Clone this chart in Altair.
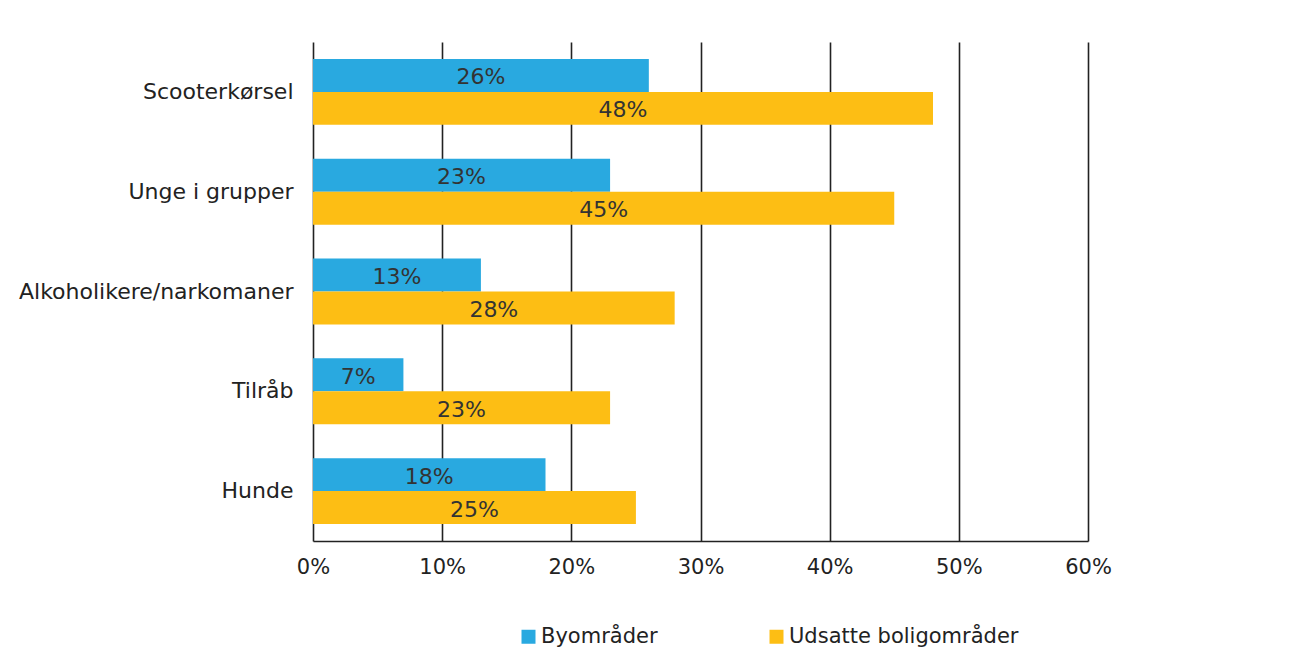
import altair as alt
import pandas as pd

categories = ["Scooterkørsel", "Unge i grupper", "Alkoholikere/narkomaner", "Tilråb", "Hunde"]
series = ["Byområder", "Udsatte boligområder"]
byomraader = [26, 23, 13, 7, 18]
udsatte = [48, 45, 28, 23, 25]
colors = ["#29A9E0", "#FDBE14"]
x_ticks = [0, 10, 20, 30, 40, 50, 60]

rows = []
for c, a, b in zip(categories, byomraader, udsatte):
    rows.append({"cat": c, "serie": series[0], "val": a})
    rows.append({"cat": c, "serie": series[1], "val": b})
df = pd.DataFrame(rows)

FONT = "DejaVu Sans"
FS = 22

base = alt.Chart(df).transform_calculate(
    mid="datum.val / 2", lbl="datum.val + '%'"
)

y_enc = alt.Y(
    "cat:N", sort=categories, title=None,
    scale=alt.Scale(paddingInner=0.34, paddingOuter=0.17),
    axis=alt.Axis(domain=False, ticks=False, labelPadding=20, labelFontSize=FS,
                  labelColor="#222", labelFont=FONT, grid=False, labelLimit=400),
)
yoff = alt.YOffset("serie:N", sort=series, scale=alt.Scale(paddingInner=0, paddingOuter=0))

bars = base.mark_bar().encode(
    x=alt.X("val:Q", title=None,
            scale=alt.Scale(domain=[0, 60], nice=False),
            axis=alt.Axis(values=x_ticks, labelExpr="datum.value + '%'",
                          grid=True, gridColor="#222", gridWidth=1.6,
                          domain=True, domainColor="#222", domainWidth=1.6,
                          ticks=False, labelPadding=15, labelFontSize=21,
                          labelColor="#222", labelFont=FONT, labelFlush=False)),
    y=y_enc,
    yOffset=yoff,
    color=alt.Color("serie:N", sort=series,
                    scale=alt.Scale(domain=series, range=colors),
                    legend=alt.Legend(title=None, orient="none", legendX=205, legendY=584,
                                      direction="horizontal", symbolType="square",
                                      symbolSize=196, symbolStrokeWidth=0,
                                      labelFontSize=21, labelColor="#222", labelFont=FONT,
                                      labelOffset=2, labelLimit=400, columnPadding=108, padding=0)),
)

labels = base.mark_text(fontSize=FS, color="#333", font=FONT, baseline="middle", align="center", dy=2).encode(
    x=alt.X("mid:Q"),
    y=alt.Y("cat:N", sort=categories),
    yOffset=yoff,
    text="lbl:N",
)

chart = alt.layer(bars, labels).properties(
    width=775, height=499,
    autosize=alt.AutoSizeParams(type="none"),
    padding={"left": 305, "top": 34, "right": 190, "bottom": 110},
).configure_view(stroke=None)

chart.save("out.html", embed_options={"renderer": "svg", "actions": False})
